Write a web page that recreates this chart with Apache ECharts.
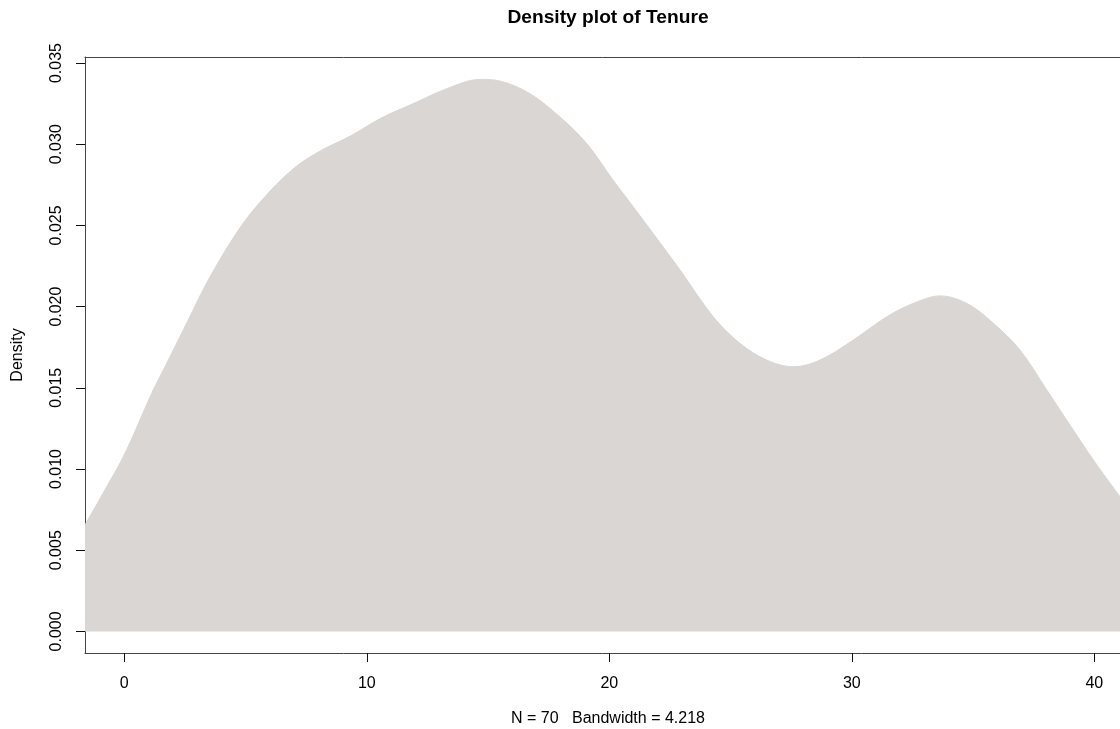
<!DOCTYPE html>
<html>
<head>
<meta charset="utf-8">
<script src="https://cdn.jsdelivr.net/npm/echarts@6/dist/echarts.min.js"></script>
<style>
  html, body { margin: 0; padding: 0; background: #ffffff; }
  #chart { width: 1120px; height: 729px; }
</style>
</head>
<body>
<div id="chart"></div>
<script>
// Kernel density estimate of Tenure (x = tenure, y = density)
const tenure = [-1.62, -0.80, 0.03, 1.13, 1.68, 2.50, 3.46, 4.70, 5.67, 6.90,
  8.00, 9.38, 10.54, 11.92, 13.30, 14.67, 15.49, 16.73, 17.97, 19.07,
  20.16, 20.99, 21.81, 22.92, 24.29, 25.39, 26.49, 27.59, 28.69, 30.06,
  31.44, 32.54, 33.64, 34.74, 35.84, 36.94, 38.04, 38.86, 39.96, 41.06];
const density = [0.00656, 0.00871, 0.01097, 0.01466, 0.01630, 0.01876, 0.02163, 0.02470, 0.02655, 0.02840,
  0.02952, 0.03055, 0.03157, 0.03250, 0.03342, 0.03399, 0.03389, 0.03311, 0.03167, 0.03004,
  0.02778, 0.02614, 0.02450, 0.02225, 0.01937, 0.01774, 0.01671, 0.01630, 0.01671, 0.01794,
  0.01937, 0.02020, 0.02066, 0.02020, 0.01897, 0.01732, 0.01487, 0.01302, 0.01056, 0.00830];
const xTicks = [0, 10, 20, 30, 40];
const yTicks = [0, 0.005, 0.010, 0.015, 0.020, 0.025, 0.030, 0.035];

const titleText = 'Density plot of Tenure';
const subText = 'N = 70   Bandwidth = 4.218';
const yName = 'Density';

const font = 'Liberation Sans, Arial, sans-serif';
const axisColor = '#444444';

const chart = echarts.init(document.getElementById('chart'), null, { renderer: 'canvas' });

chart.setOption({
  backgroundColor: '#ffffff',
  animation: false,
  title: [
    {
      text: titleText,
      left: 608, top: 8, padding: 0, textAlign: 'center',
      textStyle: { fontFamily: font, fontSize: 19.2, fontWeight: 'bold', color: '#000000' }
    },
    {
      text: subText,
      left: 608, top: 711, padding: 0, textAlign: 'center',
      textStyle: { fontFamily: font, fontSize: 16, fontWeight: 'normal', color: '#000000' }
    }
  ],
  grid: { left: 85, top: 57, right: 0, bottom: 76, containLabel: false },
  xAxis: [
    {
      type: 'value',
      min: -1.62, max: 41.06,
      position: 'bottom',
      axisLine: { show: true, onZero: false, lineStyle: { color: axisColor, width: 1 } },
      axisTick: { show: true, length: 9, customValues: xTicks, lineStyle: { color: '#111111' } },
      axisLabel: { show: true, margin: 23, customValues: xTicks, fontFamily: font, fontSize: 16, color: '#000000' },
      splitLine: { show: false }
    },
    {
      // top edge of the plot frame
      type: 'value',
      min: -1.62, max: 41.06,
      position: 'top',
      axisLine: { show: true, onZero: false, lineStyle: { color: axisColor, width: 1 } },
      axisTick: { show: false },
      axisLabel: { show: false },
      splitLine: { show: false }
    }
  ],
  yAxis: {
    type: 'value',
    min: -0.00133, max: 0.03537,
    name: yName,
    nameLocation: 'middle',
    nameGap: 59,
    nameRotate: 90,
    nameTextStyle: { fontFamily: font, fontSize: 16, color: '#000000' },
    axisLine: { show: true, onZero: false, lineStyle: { color: axisColor, width: 1 } },
    axisTick: { show: true, length: 9, customValues: yTicks, lineStyle: { color: '#111111' } },
    axisLabel: {
      show: true, rotate: 90, margin: 20, customValues: yTicks,
      fontFamily: font, fontSize: 16, color: '#000000',
      formatter: v => v.toFixed(3)
    },
    splitLine: { show: false }
  },
  series: [
    {
      type: 'line',
      data: tenure.map((x, i) => [x, density[i]]),
      smooth: 0.35,
      showSymbol: false,
      symbol: 'none',
      lineStyle: { color: '#d9d6d3', width: 1 },
      areaStyle: { color: '#d9d6d3', opacity: 1 },
      clip: true
    }
  ]
});
</script>
</body>
</html>
